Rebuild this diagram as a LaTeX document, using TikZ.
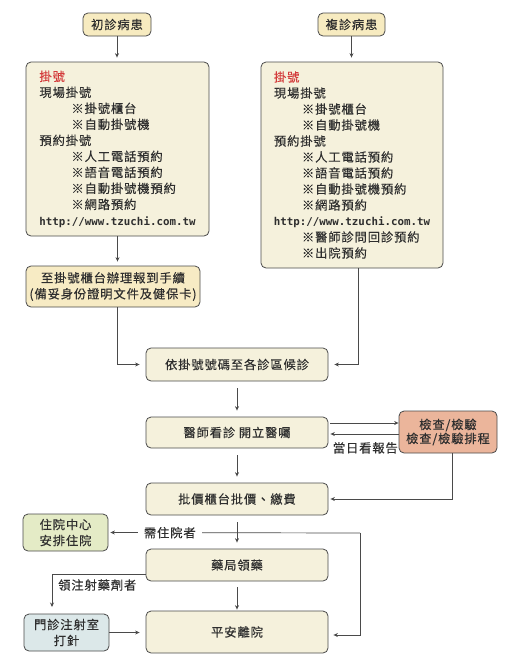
\documentclass[tikz,border=0pt]{standalone}
\usepackage{fontspec}
\setmainfont{Noto Sans CJK TC}[LetterSpace=7, FakeBold=0.3]
\newfontfamily\urlfont{DejaVu Sans Mono}
\usetikzlibrary{arrows.meta}
\definecolor{edgec}{HTML}{4A4A4A}
\definecolor{txt}{HTML}{2E2E2E}
\definecolor{cream}{HTML}{F5F1DC}
\definecolor{startc}{HTML}{F7EBC0}
\definecolor{regc}{HTML}{F7EBC4}
\definecolor{examc}{HTML}{EBB59B}
\definecolor{hospc}{HTML}{E4EBC6}
\definecolor{injc}{HTML}{DCE8E9}
\definecolor{redc}{HTML}{D33A3A}
\newcommand{\urltext}{{\urlfont\bfseries\fontsize{10.8}{16}\selectfont http://www.tzuchi.com.tw}}
\tikzset{
  box/.style={draw=edgec, line width=0.8pt, rounded corners=5pt, fill=cream, text=txt,
    inner sep=0pt, align=center, font=\fontsize{12.3}{16}\selectfont},
  conn/.style={draw=edgec, line width=0.7pt, -{Stealth[length=4.5pt,width=4pt]}},
  lab/.style={text=txt, font=\fontsize{12.3}{14}\selectfont, inner sep=1pt}
}
\begin{document}
\begin{tikzpicture}[x=1pt,y=-1pt]
\useasboundingbox (0,0) rectangle (506,664);
% start boxes
\node[box, fill=startc, minimum width=68pt, minimum height=23pt] (p1) at (117,24.5) {初診病患};
\node[box, fill=startc, minimum width=67pt, minimum height=23pt] (p2) at (351.5,24.5) {複診病患};
% registration boxes
\node[box, minimum width=183pt, minimum height=174pt, align=left] (L) at (117.5,149) {%
\textcolor{redc}{掛號}\\
現場掛號\\
\hspace*{32pt}※掛號櫃台\\
\hspace*{32pt}※自動掛號機\\
預約掛號\\
\hspace*{32pt}※人工電話預約\\
\hspace*{32pt}※語音電話預約\\
\hspace*{32pt}※自動掛號機預約\\
\hspace*{32pt}※網路預約\\
\urltext};
\node[box, minimum width=182pt, minimum height=206pt, align=left] (R) at (352,165) {%
\textcolor{redc}{掛號}\\
現場掛號\\
\hspace*{28pt}※掛號櫃台\\
\hspace*{28pt}※自動掛號機\\
預約掛號\\
\hspace*{28pt}※人工電話預約\\
\hspace*{28pt}※語音電話預約\\
\hspace*{28pt}※自動掛號機預約\\
\hspace*{28pt}※網路預約\\
\urltext\\
\hspace*{28pt}※醫師診問回診預約\\
\hspace*{28pt}※出院預約};
\node[box, fill=regc, minimum width=174pt, minimum height=41pt] (reg) at (113,286.5) {至掛號櫃台辦理報到手續\\(備妥身份證明文件及健保卡)};
% main column
\node[box, minimum width=182pt, minimum height=33pt] (wait) at (237,364.5) {依掛號號碼至各診區候診};
\node[box, minimum width=182pt, minimum height=31pt] (doc) at (237,432.5) {醫師看診 開立醫囑};
\node[box, fill=examc, minimum width=98pt, minimum height=42pt, font=\fontsize{12.3}{14}\selectfont] (exam) at (448,432) {檢查/檢驗\\檢查/檢驗排程};
\node[box, minimum width=182pt, minimum height=32pt] (pay) at (237,499) {批價櫃台批價、繳費};
\node[box, fill=hospc, minimum width=85pt, minimum height=37pt] (hosp) at (65.5,532.5) {住院中心\\安排住院};
\node[box, minimum width=182pt, minimum height=32pt] (pharm) at (237,565) {藥局領藥};
\node[box, fill=injc, minimum width=85pt, minimum height=37pt] (inj) at (66.5,632.5) {門診注射室\\打針};
\node[box, minimum width=182pt, minimum height=42pt] (exit) at (237,632) {平安離院};
% connectors
\draw[conn, shorten >=4pt] (p1.south) -- (p1.south |- L.north);
\draw[conn, shorten >=4pt] (p2.south) -- (p2.south |- R.north);
\draw[conn, shorten >=4pt] (L.south) -- (L.south |- reg.north);
\draw[conn, shorten >=6pt] (reg.south -| L.south) |- (wait.west);
\draw[conn, shorten >=6pt] ([xshift=6pt]R.south) |- (wait.east);
\draw[conn, shorten <=7pt, shorten >=6pt] (wait.south) -- (doc.north);
\draw[conn, shorten <=2pt] ([yshift=9.5pt]doc.east) -- ([yshift=9.5pt]doc.east -| exam.west);
\draw[conn, shorten >=2pt] ([yshift=-2pt]exam.west) -- ([yshift=-2pt]exam.west -| doc.east);
\node[lab, anchor=north east] (rpt) at (399,441) {當日看報告};
\draw[conn, shorten <=7pt, shorten >=6pt] (doc.south) -- (pay.north);
\draw[conn, shorten >=2pt] ([xshift=4pt]exam.south) |- (pay.east);
\draw[conn, shorten <=7pt, shorten >=6pt] (pay.south) -- (pharm.north);
\coordinate (j) at (360,533);
\draw[conn, shorten >=2pt] (j) -- node[pos=0.756, lab, fill=white, inner xsep=6pt] (need) {需住院者} (hosp.east);
\draw[conn, shorten >=5pt] (j) |- ([yshift=-3pt]exit.east);
\coordinate (k) at (52,607);
\draw[conn] ([yshift=-9pt]pharm.west) -| (k);
\node[lab, anchor=west] (inject) at (57,585) {領注射藥劑者};
\draw[conn, shorten <=6pt, shorten >=1pt] (pharm.south) -- (exit.north);
\draw[conn, shorten >=6pt] (inj.east) -- (inj.east -| exit.west);
\end{tikzpicture}
\end{document}
